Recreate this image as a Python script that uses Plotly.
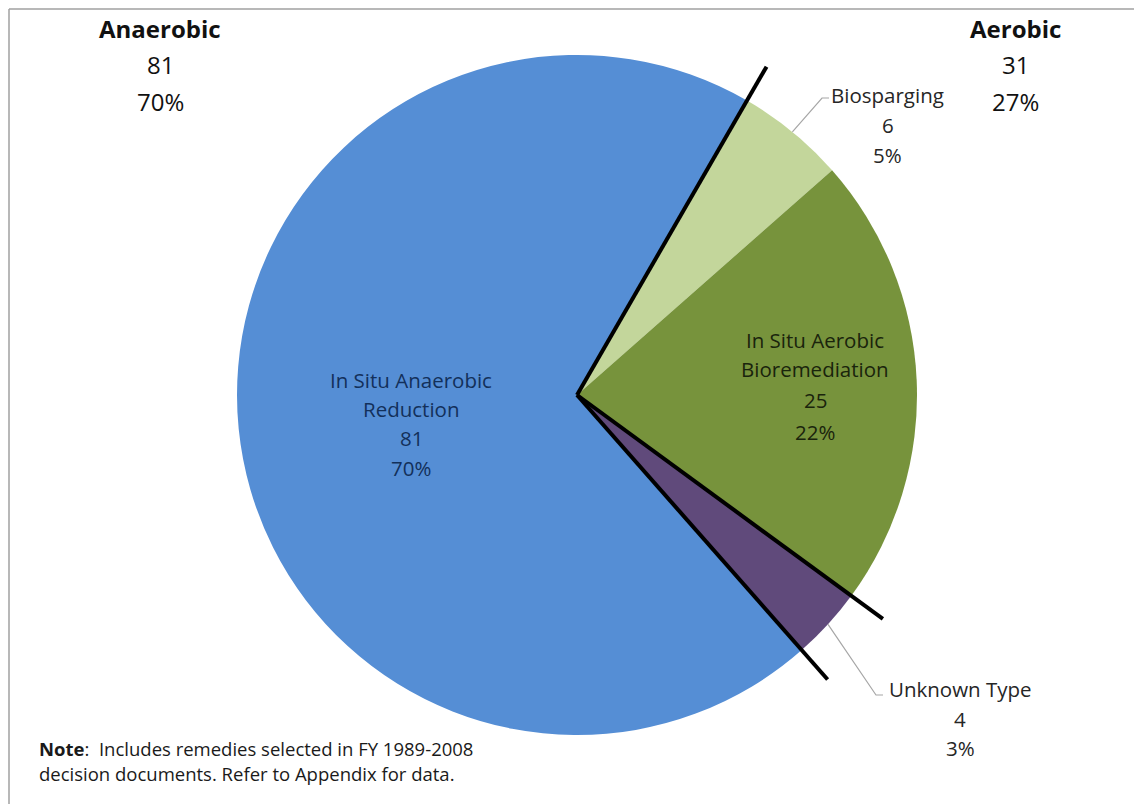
import math
import plotly.graph_objects as go

# ---- data ----
labels = ["Biosparging", "In Situ Aerobic Bioremediation", "Unknown Type", "In Situ Anaerobic Reduction"]
values = [6, 25, 4, 81]
colors = ["#C3D69B", "#77933C", "#604A7B", "#558ED5"]
group_names = ["Anaerobic", "Aerobic"]
group_values = [81, 31]
group_pcts = ["70%", "27%"]
pcts = ["5%", "22%", "3%", "70%"]

W, H = 1142, 804
OFF = 8  # page body margin
CX, CY, R = 577, 395, 340
ROT = 30
FONT = "'Open Sans', sans-serif"


def px(x):
    return (x - OFF) / W


def py(y):
    return 1 - (y - OFF) / H


fig = go.Figure()
fig.add_trace(go.Pie(
    labels=labels, values=values, sort=False, direction="clockwise",
    rotation=ROT, marker=dict(colors=colors, line=dict(width=0)),
    textinfo="none", hoverinfo="label+value+percent", showlegend=False,
    domain=dict(x=[px(CX - R), px(CX + R)], y=[py(CY + R), py(CY - R)]),
))

# boundary angles from data
total = sum(values)
bounds = [ROT]
for v in values:
    bounds.append(bounds[-1] + v / total * 360)
mids = [(bounds[i] + bounds[i + 1]) / 2 for i in range(len(values))]


def pt(angle, rad):
    a = math.radians(angle)
    return CX + rad * math.sin(a), CY - rad * math.cos(a)


shapes = []
# thick black separator lines (group boundaries)
for ang in [bounds[0], bounds[2], bounds[3]]:
    x1, y1 = pt(ang, R * 1.115)
    shapes.append(dict(type="line", xref="paper", yref="paper",
                       x0=px(CX), y0=py(CY), x1=px(x1), y1=py(y1),
                       line=dict(color="black", width=4)))

# leader lines
bx, by = pt(mids[0], R)
shapes.append(dict(type="path", xref="paper", yref="paper",
                   path=f"M {px(bx)},{py(by)} L {px(822)},{py(98)} L {px(829)},{py(98)}",
                   line=dict(color="#A6A6A6", width=1.2)))
ux, uy = pt(mids[2], R)
shapes.append(dict(type="path", xref="paper", yref="paper",
                   path=f"M {px(ux)},{py(uy)} L {px(876)},{py(695)} L {px(883)},{py(695)}",
                   line=dict(color="#A6A6A6", width=1.2)))

# frame lines
shapes.append(dict(type="line", xref="paper", yref="paper", x0=px(9), y0=py(9), x1=1, y1=py(9),
                   line=dict(color="#A0A0A0", width=1.5)))
shapes.append(dict(type="line", xref="paper", yref="paper", x0=px(9), y0=py(9), x1=px(9), y1=0,
                   line=dict(color="#A0A0A0", width=1.5)))

annotations = []


def add_lines(lines, x, ys, size, color, xanchor="center"):
    for t, y in zip(lines, ys):
        annotations.append(dict(text=t, x=px(x), y=py(y), xref="paper", yref="paper",
                                showarrow=False, xanchor=xanchor, yanchor="middle",
                                font=dict(family=FONT, size=size, color=color)))


# group headers
add_lines([f"<b>{group_names[0]}</b>", str(group_values[0]), group_pcts[0]], 160, [28, 64, 101], 24, "#111111")
add_lines([f"<b>{group_names[1]}</b>", str(group_values[1]), group_pcts[1]], 1015, [28, 64, 101], 24, "#111111")

# slice labels
add_lines(["In Situ Anaerobic", "Reduction", str(values[3]), pcts[3]], 411, [380, 409, 438, 468], 20.5, "#13305A")
add_lines(["In Situ Aerobic", "Bioremediation", str(values[1]), pcts[1]], 815, [340, 369, 400, 432], 20.5, "#1A240C")
add_lines([labels[0], str(values[0]), pcts[0]], 888, [95, 125, 155], 20.5, "#262626")
add_lines([labels[2], str(values[2]), pcts[2]], 960, [689, 719, 748], 20.5, "#262626")

# note
add_lines(["<b>Note</b>:  Includes remedies selected in FY 1989-2008",
           "decision documents. Refer to Appendix for data."], 37, [748, 773], 18.5, "#1A1A1A", xanchor="left")

fig.update_layout(width=W, height=H, margin=dict(l=0, r=0, t=0, b=0),
                  paper_bgcolor="white", plot_bgcolor="white",
                  shapes=shapes, annotations=annotations)
fig.write_html("out.html")
